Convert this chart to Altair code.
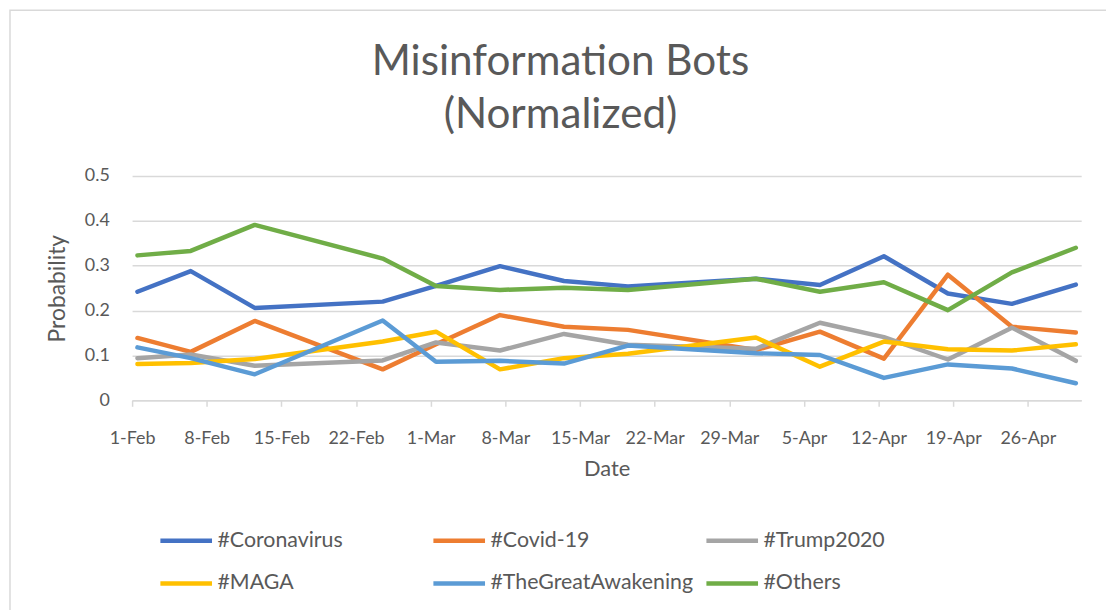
import altair as alt
import pandas as pd

dates = ["2021-02-01T12:00:00", "2021-02-06T12:00:00", "2021-02-12T12:00:00",
         "2021-02-24T12:00:00", "2021-03-01T12:00:00", "2021-03-07T12:00:00",
         "2021-03-13T12:00:00", "2021-03-19T12:00:00", "2021-03-31T12:00:00",
         "2021-04-06T12:00:00", "2021-04-12T12:00:00", "2021-04-18T12:00:00",
         "2021-04-24T12:00:00", "2021-04-30T12:00:00"]

series_names = ["#Coronavirus", "#Covid-19", "#Trump2020", "#MAGA",
                "#TheGreatAwakening", "#Others"]
series_colors = ["#4472C4", "#ED7D31", "#A5A5A5", "#FFC000", "#5B9BD5", "#70AD47"]

coronavirus = [0.242, 0.288, 0.206, 0.220, 0.255, 0.299, 0.266, 0.254, 0.271, 0.257, 0.321, 0.238, 0.215, 0.258]
covid19 = [0.139, 0.108, 0.177, 0.069, 0.125, 0.190, 0.164, 0.157, 0.112, 0.153, 0.093, 0.280, 0.164, 0.151]
trump2020 = [0.094, 0.102, 0.077, 0.089, 0.129, 0.111, 0.148, 0.124, 0.115, 0.173, 0.141, 0.091, 0.162, 0.088]
maga = [0.081, 0.083, 0.092, 0.131, 0.153, 0.069, 0.094, 0.104, 0.140, 0.075, 0.131, 0.114, 0.111, 0.125]
great_awakening = [0.118, 0.094, 0.058, 0.178, 0.086, 0.088, 0.082, 0.122, 0.105, 0.101, 0.050, 0.080, 0.071, 0.038]
others = [0.323, 0.333, 0.391, 0.316, 0.255, 0.246, 0.251, 0.246, 0.271, 0.242, 0.263, 0.201, 0.285, 0.340]

tick_days = [(2, 1), (2, 8), (2, 15), (2, 22), (3, 1), (3, 8), (3, 15), (3, 22),
             (3, 29), (4, 5), (4, 12), (4, 19), (4, 26)]
y_ticks = [0, 0.1, 0.2, 0.3, 0.4, 0.5]
title_lines = ["Misinformation Bots", "(Normalized)"]

all_values = [coronavirus, covid19, trump2020, maga, great_awakening, others]
rows = []
for name, vals in zip(series_names, all_values):
    for d, v in zip(dates, vals):
        rows.append({"Date": d, "Series": name, "Probability": v})
df = pd.DataFrame(rows)

FONT = "Lato"
TXT = "#595959"
GRID = "#d9d9d9"

x_enc = alt.X(
    "Date:T",
    scale=alt.Scale(domain=[alt.DateTime(year=2021, month=2, date=1),
                            alt.DateTime(year=2021, month=5, date=1)]),
    axis=alt.Axis(
        title="Date",
        values=[alt.DateTime(year=2021, month=m, date=d) for m, d in tick_days],
        format="%-d-%b",
        grid=False,
        domainColor=GRID, domainWidth=1.5,
        tickColor=GRID, tickWidth=1.5, tickSize=6,
        labelFont=FONT, labelFontSize=18, labelColor=TXT, labelPadding=23,
        labelAngle=0, labelOverlap=False, labelFlush=False,
        titleFont=FONT, titleFontSize=22, titleColor=TXT, titleFontWeight="normal",
        titlePadding=12,
    ),
)

y_enc = alt.Y(
    "Probability:Q",
    scale=alt.Scale(domain=[0, 0.5], nice=False, zero=True),
    axis=alt.Axis(
        title="Probability",
        values=y_ticks,
        labelExpr="datum.value == 0 ? '0' : format(datum.value, '.1f')",
        grid=True, gridColor=GRID, gridWidth=1.5,
        domain=False, ticks=False,
        labelFont=FONT, labelFontSize=18, labelColor=TXT, labelPadding=23,
        titleFont=FONT, titleFontSize=23, titleColor=TXT, titleFontWeight="normal",
        titlePadding=15,
    ),
)

lines = alt.Chart(df).mark_line(strokeWidth=4.5, strokeCap="round", strokeJoin="round").encode(
    x=x_enc,
    y=y_enc,
    color=alt.Color(
        "Series:N",
        scale=alt.Scale(domain=series_names, range=series_colors),
        sort=series_names,
        legend=alt.Legend(
            title=None, orient="none", legendX=26, legendY=339,
            columns=3, direction="horizontal",
            symbolType="stroke", symbolSize=2704, symbolStrokeWidth=4.5,
            labelFont=FONT, labelFontSize=21.5, labelColor=TXT, labelOffset=3,
            columnPadding=3, rowPadding=4, gridAlign="all",
            labelLimit=400,
        ),
    ),
    order=alt.Order("Date:T"),
)

border = alt.Chart(alt.Data(values=[{"k": 1}])).mark_rect(
    fill=None, stroke=GRID, strokeWidth=1.5
).encode(
    x=alt.value(-123), x2=alt.value(2000), y=alt.value(-167), y2=alt.value(1200)
)

title1 = alt.Chart(alt.Data(values=[{"t": title_lines[0]}])).mark_text(
    font=FONT, fontSize=42.5, color=TXT, align="center", baseline="alphabetic"
).encode(x=alt.value(431.5), y=alt.value(-102), text="t:N")

title2 = alt.Chart(alt.Data(values=[{"t": title_lines[1]}])).mark_text(
    font=FONT, fontSize=42.5, color=TXT, align="center", baseline="alphabetic"
).encode(x=alt.value(431.5), y=alt.value(-48), text="t:N")

chart = alt.layer(border, lines, title1, title2).properties(
    width=956, height=226,
    autosize=alt.AutoSizeParams(type="none"),
    padding={"left": 125, "top": 167, "right": 25, "bottom": 209},
).configure_view(stroke=None)

chart.save("out.html", embed_options={"renderer": "svg", "actions": False})
